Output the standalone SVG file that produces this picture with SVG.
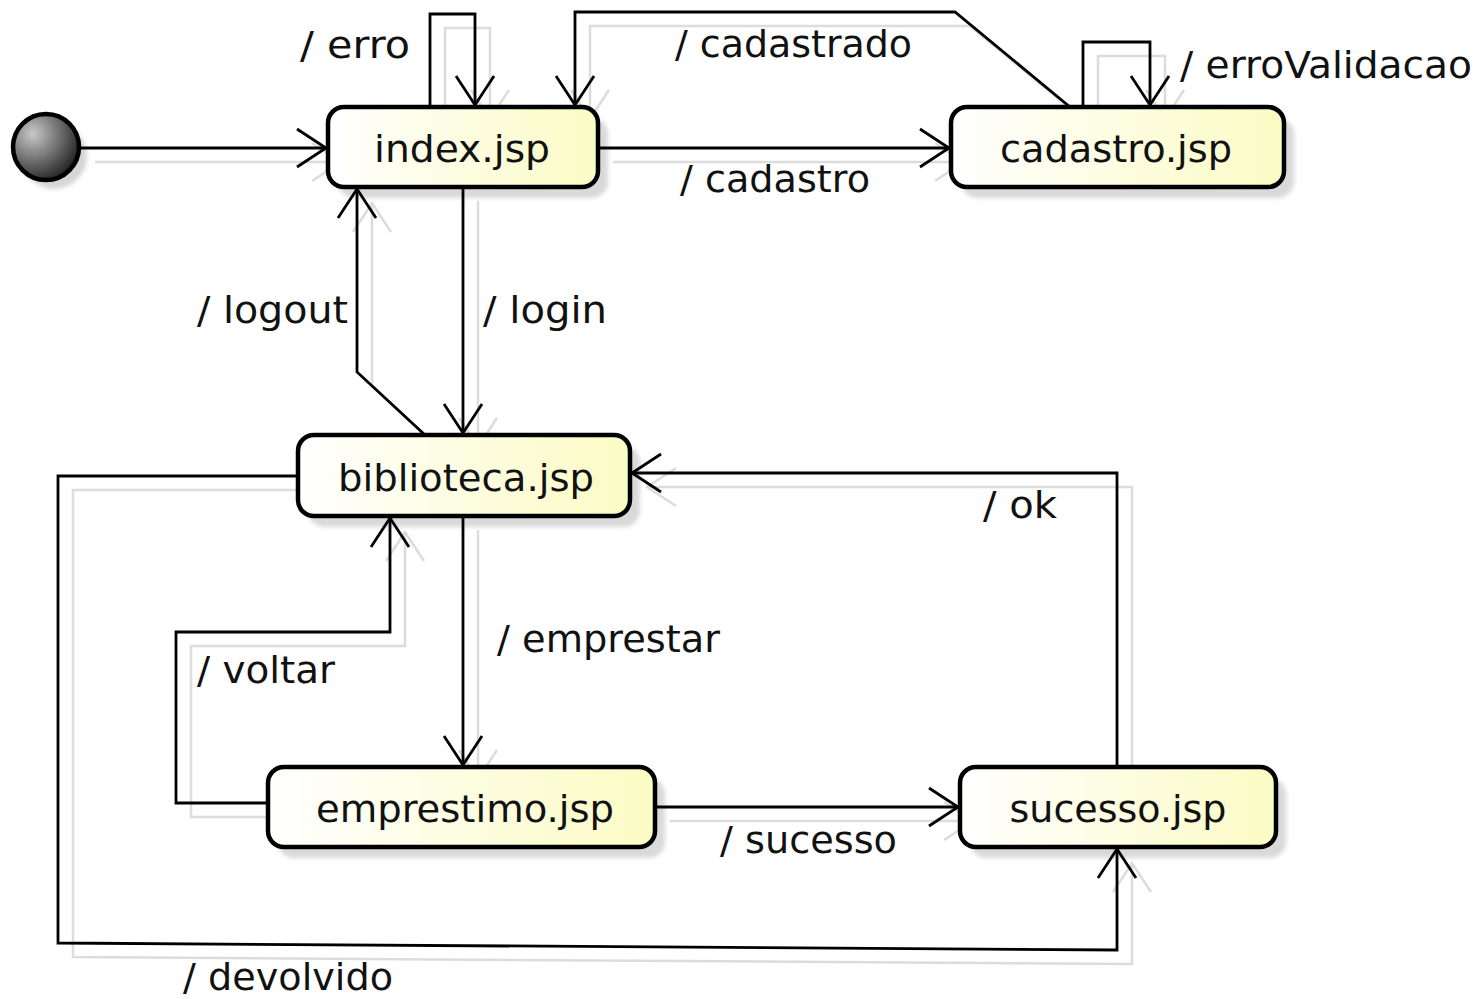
<svg xmlns="http://www.w3.org/2000/svg" width="1484" height="999" viewBox="0 0 1484 999">
<style>
  .node rect.box { stroke:#000; stroke-width:4.5; fill:url(#ng); }
  .node rect.sh { fill:#d9d9d9; filter:url(#blur); }
  .t { font-family:"DejaVu Sans", "Liberation Sans", sans-serif; font-size:38px; fill:#111; }
  .nt { text-anchor:middle; }
  .c { fill:none; stroke:#000; stroke-width:2.8; marker-end:url(#ah); }
  .s { fill:none; stroke:#dcdcdc; stroke-width:2.5; marker-end:url(#ahs); }
</style>
<defs>
  <linearGradient id="ng" x1="0" y1="0" x2="1" y2="0">
    <stop offset="0" stop-color="#ffffff"/>
    <stop offset="1" stop-color="#fbfbc4"/>
  </linearGradient>
  <radialGradient id="ig" cx="0.3" cy="0.3" r="0.8">
    <stop offset="0" stop-color="#c8c8c8"/>
    <stop offset="1" stop-color="#1a1a1a"/>
  </radialGradient>
  <filter id="blur" x="-10%" y="-10%" width="120%" height="120%"><feGaussianBlur stdDeviation="2"/></filter>
  <marker id="ah" viewBox="-32 -22 36 44" refX="0" refY="0" markerWidth="36" markerHeight="44" markerUnits="userSpaceOnUse" orient="auto">
    <path d="M-29,-19 L0,0 L-29,19" fill="none" stroke="#000" stroke-width="2.8"/>
  </marker>
  <marker id="ahs" viewBox="-32 -22 36 44" refX="0" refY="0" markerWidth="36" markerHeight="44" markerUnits="userSpaceOnUse" orient="auto">
    <path d="M-29,-19 L0,0 L-29,19" fill="none" stroke="#dcdcdc" stroke-width="2.5"/>
  </marker>
</defs>
<rect width="1484" height="999" fill="#fff"/>

<g id="connector-shadows" transform="translate(15,14)">
  <path class="s" d="M80,148 L326,148"/>
  <path class="s" d="M430,107 L430,14 L475,14 L475,105"/>
  <path class="s" d="M1070,107 L955,12 L575,12 L575,105"/>
  <path class="s" d="M1083,107 L1083,42 L1150,42 L1150,105"/>
  <path class="s" d="M598,148 L949,148"/>
  <path class="s" d="M463,187 L463,433"/>
  <path class="s" d="M425,435 L357,372 L357,189"/>
  <path class="s" d="M463,516 L463,765"/>
  <path class="s" d="M268,803 L176,803 L176,632 L390,632 L390,518"/>
  <path class="s" d="M655,807 L958,807"/>
  <path class="s" d="M1117,767 L1117,473 L632,473"/>
  <path class="s" d="M298,476 L58,476 L58,943 L1117,950 L1117,849"/>
</g>

<g id="initial">
  <circle cx="54" cy="156" r="33" fill="#d6d6d6" filter="url(#blur)"/>
  <circle cx="46" cy="147" r="33" fill="url(#ig)" stroke="#000" stroke-width="4.5"/>
</g>

<g id="index" class="node">
  <rect class="sh" x="338" y="118" width="270" height="80" rx="16"/>
  <rect class="box" x="328" y="107" width="270" height="80" rx="16"/>
  <text class="t nt" x="462" y="162" textLength="176" lengthAdjust="spacingAndGlyphs">index.jsp</text>
</g>
<g id="cadastro" class="node">
  <rect class="sh" x="961" y="118" width="333" height="80" rx="16"/>
  <rect class="box" x="951" y="107" width="333" height="80" rx="16"/>
  <text class="t nt" x="1116" y="162" textLength="232" lengthAdjust="spacingAndGlyphs">cadastro.jsp</text>
</g>
<g id="biblioteca" class="node">
  <rect class="sh" x="308" y="446" width="332" height="81" rx="16"/>
  <rect class="box" x="298" y="435" width="332" height="81" rx="16"/>
  <text class="t nt" x="466" y="491" textLength="256" lengthAdjust="spacingAndGlyphs">biblioteca.jsp</text>
</g>
<g id="emprestimo" class="node">
  <rect class="sh" x="278" y="778" width="387" height="80" rx="16"/>
  <rect class="box" x="268" y="767" width="387" height="80" rx="16"/>
  <text class="t nt" x="465" y="822" textLength="298" lengthAdjust="spacingAndGlyphs">emprestimo.jsp</text>
</g>
<g id="sucesso" class="node">
  <rect class="sh" x="970" y="778" width="316" height="80" rx="16"/>
  <rect class="box" x="960" y="767" width="316" height="80" rx="16"/>
  <text class="t nt" x="1118" y="822" textLength="217" lengthAdjust="spacingAndGlyphs">sucesso.jsp</text>
</g>

<g id="connectors">
  <path class="c" d="M80,148 L326,148"/>
  <path class="c" d="M430,107 L430,14 L475,14 L475,105"/>
  <path class="c" d="M1070,107 L955,12 L575,12 L575,105"/>
  <path class="c" d="M1083,107 L1083,42 L1150,42 L1150,105"/>
  <path class="c" d="M598,148 L949,148"/>
  <path class="c" d="M463,187 L463,433"/>
  <path class="c" d="M425,435 L357,372 L357,189"/>
  <path class="c" d="M463,516 L463,765"/>
  <path class="c" d="M268,803 L176,803 L176,632 L390,632 L390,518"/>
  <path class="c" d="M655,807 L958,807"/>
  <path class="c" d="M1117,767 L1117,473 L632,473"/>
  <path class="c" d="M298,476 L58,476 L58,943 L1117,950 L1117,849"/>
</g>

<g id="labels">
  <text class="t" x="300" y="58" textLength="110" lengthAdjust="spacingAndGlyphs">/ erro</text>
  <text class="t" x="675" y="57" textLength="237" lengthAdjust="spacingAndGlyphs">/ cadastrado</text>
  <text class="t" x="1180" y="78" textLength="292" lengthAdjust="spacingAndGlyphs">/ erroValidacao</text>
  <text class="t" x="680" y="192" textLength="190" lengthAdjust="spacingAndGlyphs">/ cadastro</text>
  <text class="t" x="483" y="323" textLength="124" lengthAdjust="spacingAndGlyphs">/ login</text>
  <text class="t" x="197" y="323" textLength="151" lengthAdjust="spacingAndGlyphs">/ logout</text>
  <text class="t" x="497" y="652" textLength="223" lengthAdjust="spacingAndGlyphs">/ emprestar</text>
  <text class="t" x="197" y="683" textLength="138" lengthAdjust="spacingAndGlyphs">/ voltar</text>
  <text class="t" x="720" y="853" textLength="177" lengthAdjust="spacingAndGlyphs">/ sucesso</text>
  <text class="t" x="983" y="518" textLength="74" lengthAdjust="spacingAndGlyphs">/ ok</text>
  <text class="t" x="183" y="990" textLength="210" lengthAdjust="spacingAndGlyphs">/ devolvido</text>
</g>
</svg>
